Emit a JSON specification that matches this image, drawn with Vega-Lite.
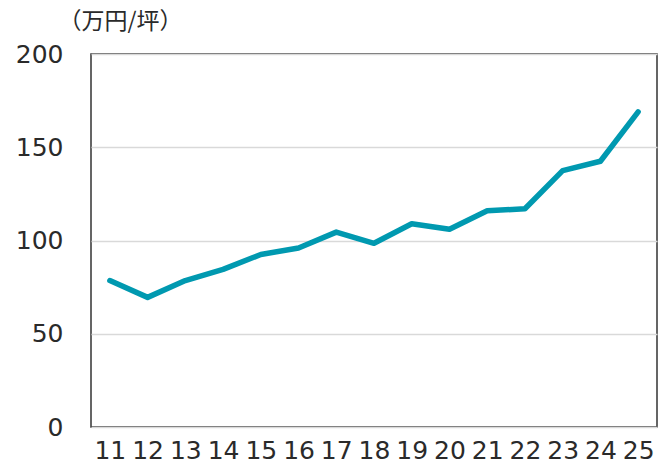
{
  "$schema": "https://vega.github.io/schema/vega-lite/v6.json",
  "width": 566,
  "height": 373,
  "autosize": {"type": "none"},
  "padding": {"left": 91, "top": 54, "right": 4, "bottom": 38},
  "background": "white",
  "config": {
    "font": "DejaVu Sans",
    "view": {"stroke": "#333333", "strokeWidth": 1.5},
    "axis": {"domain": false, "ticks": false, "gridColor": "#d9d9d9", "gridWidth": 1.5, "labelColor": "#2a2a2a", "labelFontSize": 25, "labelFont": "DejaVu Sans"}
  },
  "data": {
    "values": [
      {"year": "11", "price": 78.5},
      {"year": "12", "price": 69.5},
      {"year": "13", "price": 78.5},
      {"year": "14", "price": 84.5},
      {"year": "15", "price": 92.5},
      {"year": "16", "price": 96},
      {"year": "17", "price": 104.5},
      {"year": "18", "price": 98.5},
      {"year": "19", "price": 109},
      {"year": "20", "price": 106},
      {"year": "21", "price": 116},
      {"year": "22", "price": 117},
      {"year": "23", "price": 137.5},
      {"year": "24", "price": 142.5},
      {"year": "25", "price": 169}
    ]
  },
  "mark": {"type": "line", "color": "#0099b0", "strokeWidth": 5.5, "strokeCap": "round", "strokeJoin": "round"},
  "encoding": {
    "x": {
      "field": "year", "type": "ordinal", "sort": null,
      "scale": {"type": "point", "padding": 0.5},
      "axis": {"title": null, "labelAngle": 0, "labelPadding": 11, "grid": false}
    },
    "y": {
      "field": "price", "type": "quantitative",
      "scale": {"domain": [0, 200], "nice": false},
      "axis": {
        "values": [0, 50, 100, 150, 200],
        "labelPadding": 28,
        "title": "（万円/坪）",
        "titleAngle": 0,
        "titleAlign": "left",
        "titleBaseline": "middle",
        "titleX": -33,
        "titleY": -33,
        "titleFontSize": 23,
        "titleFontWeight": "normal",
        "titleColor": "#2a2a2a",
        "titleFont": "Noto Sans CJK JP"
      }
    }
  }
}
